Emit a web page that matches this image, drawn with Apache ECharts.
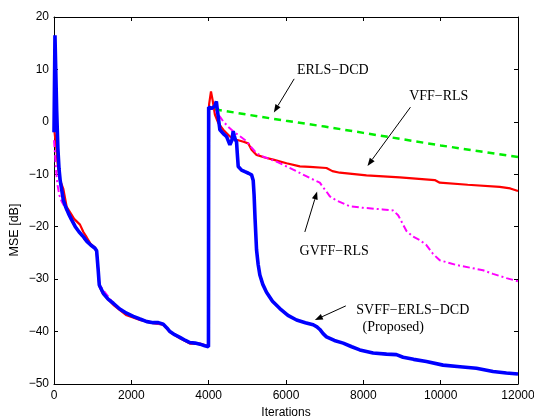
<!DOCTYPE html>
<html>
<head>
<meta charset="utf-8">
<script src="https://cdn.jsdelivr.net/npm/echarts@6/dist/echarts.min.js"></script>
<style>
  html, body { margin: 0; padding: 0; background: #fff; }
  #chart { width: 534px; height: 419px; }
</style>
</head>
<body>
<div id="chart"></div>
<script>
// MSE learning curves: [iteration, MSE in dB]
const svffErlsDcd = [
  [0,-2],[25,16.5],[45,10],[70,2],[100,-5],[130,-9],[160,-11.2],[200,-13],[241,-14.9],[300,-16.2],
  [370,-17.4],[457,-18.7],[550,-20],[650,-21],[757,-21.9],[850,-22.8],[950,-23.5],[1059,-24.1],
  [1103,-24.6],[1140,-28],[1171,-31.1],[1274,-32.7],[1400,-33.8],[1533,-34.6],[1700,-35.7],
  [1877,-36.5],[2050,-37.1],[2223,-37.6],[2400,-38.1],[2567,-38.3],[2700,-38.3],[2826,-38.6],
  [2920,-39.3],[2998,-40],[3120,-40.6],[3257,-41.1],[3400,-41.7],[3515,-42.1],[3650,-42.2],
  [3774,-42.4],[3900,-42.7],[3995,-42.9],[4000,2.8],[4080,2.6],[4117,2.3],[4160,3.0],[4199,3.9],
  [4225,2.2],[4247,1.0],[4290,-1.5],[4400,-2.4],[4464,-2.8],[4549,-4.4],[4600,-3.5],[4634,-1.8],
  [4660,-2.6],[4690,-3.4],[4721,-3.8],[4740,-6],[4764,-8.5],[4850,-9.2],[4936,-9.5],[5030,-9.8],
  [5109,-10.1],[5152,-11.2],[5175,-14],[5200,-18.5],[5238,-24.4],[5280,-27.2],[5324,-29.2],
  [5400,-31],[5496,-32.5],[5650,-34.2],[5841,-35.6],[6050,-36.9],[6273,-37.8],[6500,-38.3],
  [6703,-38.7],[6800,-39.1],[6875,-39.6],[6960,-40.4],[7047,-41],[7250,-41.7],[7478,-42.2],
  [7700,-42.9],[7909,-43.5],[8253,-44.1],[8600,-44.3],[8856,-44.4],[9028,-44.9],[9300,-45.3],
  [9631,-45.7],[10062,-46.4],[10500,-46.7],[10924,-47],[11354,-47.6],[11700,-47.9],[12000,-48.1]
];

const vffRls = [
  [0,-1],[60,-5],[100,-8.5],[150,-11],[241,-12.8],[327,-16.2],[413,-17.2],[520,-18.5],[672,-19.6],
  [760,-21],[844,-22],[950,-23.3],[1060,-24],[1103,-24.8],[1140,-28],[1171,-31.3],[1274,-32.9],
  [1533,-34.9],[1877,-36.9],[2223,-37.8],[2567,-38.4],[2826,-38.7],[2998,-40.1],[3257,-41.3],
  [3515,-42.3],[3774,-42.3],[3990,-42.8],[4010,3.3],[4060,5.8],[4101,4.2],[4161,1.4],[4247,-0.2],
  [4376,-1.5],[4549,-2.8],[4721,-3.4],[4900,-3.8],[5022,-4.1],[5109,-5.3],[5238,-6.3],[5450,-6.8],
  [5669,-7.2],[6014,-7.9],[6358,-8.5],[6616,-8.6],[7047,-8.8],[7200,-9.4],[7392,-9.7],[8081,-10.2],
  [8943,-10.6],[9847,-11.1],[9976,-11.6],[10700,-12],[11527,-12.4],[11800,-12.7],[12000,-13.2]
];

const gvffRls = [
  [0,-3.5],[25,-6],[50,-9],[90,-12],[140,-14],[200,-15.2],[260,-16],[370,-17.6],[457,-18.9],
  [757,-22.2],[1103,-24.6],[1171,-31.1],[1533,-34.6],[1877,-36.5],[2223,-37.6],[2567,-38.3],
  [2826,-38.6],[2998,-40],[3257,-41.1],[3515,-42.1],[3774,-42.4],[3995,-42.9],[4005,2.8],
  [4100,2.5],[4200,1.8],[4290,1.0],[4376,0.1],[4500,-0.9],[4634,-1.8],[4800,-2.7],[4980,-3.7],
  [5100,-4.8],[5238,-6],[5400,-6.6],[5755,-7.6],[6186,-9.1],[6616,-10.7],[6875,-11.6],[6960,-12.5],
  [7047,-13.3],[7134,-14.2],[7306,-15],[7651,-16.1],[8000,-16.4],[8500,-16.7],[8770,-16.9],
  [8900,-17.8],[9000,-19.2],[9115,-20.8],[9287,-21.9],[9450,-22.5],[9631,-23.5],[9804,-25.2],
  [9976,-26.4],[10407,-27.3],[11096,-28.3],[11354,-29.0],[11700,-29.8],[12000,-30.4]
];

const erlsDcd = [
  [4161,2.4],[5066,1.3],[6000,0.2],[7000,-0.9],[8000,-2.1],[9000,-3.3],[10000,-4.5],
  [11000,-5.6],[12000,-6.7]
];

// axis ranges and tick spacing
const xTicks = { min: 0, max: 12000, step: 2000 };
const yTicks = { min: -50, max: 20, step: 10 };

// callouts: text anchor and arrow (tail -> head) in data units
const callouts = [
  { text: 'ERLS\u2212DCD', at: [7211, 9.75], from: [6211, 8.2], to: [5686, 1.8] },
  { text: 'VFF\u2212RLS', at: [9951, 4.8], from: [9219, 2.8], to: [8108, -8.4] },
  { text: 'GVFF\u2212RLS', at: [7247, -24.6], from: [6487, -21.0], to: [6805, -13.3] },
  { text: 'SVFF\u2212ERLS\u2212DCD', at: [9279, -36.0], from: [7547, -35.1], to: [6746, -37.8] },
  { text: '(Proposed)', at: [8775, -39.2] }
];

const chart = echarts.init(document.getElementById('chart'), null, { renderer: 'canvas' });

const axisFont = { color: '#000', fontFamily: 'Liberation Sans, Arial, sans-serif', fontSize: 12 };
const frameLine = { show: true, onZero: false, lineStyle: { color: '#000', width: 1 } };
const innerTick = { show: true, inside: true, length: 4, lineStyle: { color: '#000', width: 1 } };
const plainNumber = v => String(v);

chart.setOption({
  animation: false,
  backgroundColor: '#fff',
  grid: { left: 54, right: 16, top: 17, bottom: 35, outerBoundsMode: 'none', containLabel: false },
  xAxis: [
    {
      type: 'value', min: xTicks.min, max: xTicks.max, interval: xTicks.step,
      position: 'bottom', axisLine: frameLine, axisTick: innerTick,
      axisLabel: Object.assign({ margin: 6, formatter: plainNumber }, axisFont), splitLine: { show: false },
      name: 'Iterations', nameLocation: 'middle', nameGap: 23,
      nameTextStyle: axisFont
    },
    {
      type: 'value', min: xTicks.min, max: xTicks.max, interval: xTicks.step,
      position: 'top', axisLine: frameLine, axisTick: innerTick,
      axisLabel: { show: false }, splitLine: { show: false }
    }
  ],
  yAxis: [
    {
      type: 'value', min: yTicks.min, max: yTicks.max, interval: yTicks.step,
      position: 'left', axisLine: frameLine, axisTick: innerTick,
      axisLabel: Object.assign({ margin: 5, formatter: v => String(v).replace('-', '\u2212') }, axisFont),
      splitLine: { show: false }
    },
    {
      type: 'value', min: yTicks.min, max: yTicks.max, interval: yTicks.step,
      position: 'right', axisLine: frameLine, axisTick: innerTick,
      axisLabel: { show: false }, splitLine: { show: false }
    }
  ],
  series: [
    {
      name: 'ERLS-DCD', type: 'line', data: erlsDcd, showSymbol: false, z: 2,
      lineStyle: { color: '#00ee00', width: 2.5, type: [7, 5] }
    },
    {
      name: 'VFF-RLS', type: 'line', data: vffRls, showSymbol: false, z: 3,
      lineStyle: { color: '#ff0000', width: 2.2 }
    },
    {
      name: 'GVFF-RLS', type: 'line', data: gvffRls, showSymbol: false, z: 4,
      lineStyle: { color: '#ff00ff', width: 2, type: [7, 3, 2, 3] }
    },
    {
      name: 'SVFF-ERLS-DCD', type: 'line', data: svffErlsDcd, showSymbol: false, z: 5,
      lineStyle: { color: '#0000ff', width: 3.6 }
    }
  ]
});

// callout text and arrows, placed through the axis scales
function arrowGraphics(p0, p1) {
  const dx = p1[0] - p0[0], dy = p1[1] - p0[1];
  const len = Math.sqrt(dx * dx + dy * dy);
  const ux = dx / len, uy = dy / len;
  const headLen = 8, headHalf = 3;
  const bx = p1[0] - ux * headLen, by = p1[1] - uy * headLen;
  return [
    { type: 'line', shape: { x1: p0[0], y1: p0[1], x2: bx, y2: by },
      style: { stroke: '#000', lineWidth: 1 }, z: 20 },
    { type: 'polygon', shape: { points: [
        [p1[0], p1[1]],
        [bx - uy * headHalf, by + ux * headHalf],
        [bx + uy * headHalf, by - ux * headHalf]
      ] }, style: { fill: '#000' }, z: 20 }
  ];
}

const extras = [];
callouts.forEach(c => {
  const p = chart.convertToPixel({ gridIndex: 0 }, c.at);
  extras.push({
    type: 'text', x: p[0], y: p[1], z: 20,
    style: { text: c.text, fill: '#000', font: '14px "Liberation Serif", "Times New Roman", serif',
             textAlign: 'center', textVerticalAlign: 'middle' }
  });
  if (c.from) {
    const a = chart.convertToPixel({ gridIndex: 0 }, c.from);
    const b = chart.convertToPixel({ gridIndex: 0 }, c.to);
    arrowGraphics(a, b).forEach(g => extras.push(g));
  }
});

// vertical axis title
extras.push({
  type: 'text', x: 15, y: 230, rotation: Math.PI / 2, z: 20,
  style: { text: 'MSE [dB]', fill: '#000', font: '12.5px "Liberation Sans", Arial, sans-serif',
           textAlign: 'center', textVerticalAlign: 'middle' }
});

chart.setOption({ graphic: extras });
</script>
</body>
</html>
